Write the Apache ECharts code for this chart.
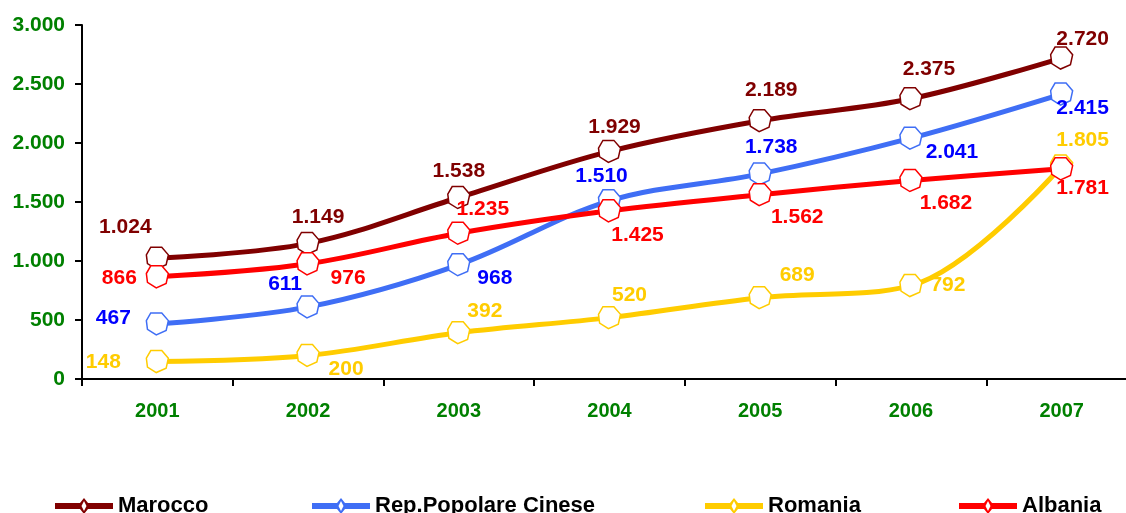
<!DOCTYPE html>
<html lang="it">
  <head>
    <meta charset="UTF-8" />
    <title>Chart</title>
    <script src="https://cdn.jsdelivr.net/npm/echarts@6/dist/echarts.min.js"></script>
    <style>
      html, body { margin: 0; padding: 0; background: #fff; overflow: hidden; }
    </style>
  </head>
  <body>
    <!-- l'asse x prosegue oltre il bordo destro, come nell'originale -->
    <div id="main" style="width: 1137px; height: 513px"></div>
    <script type="text/javascript">
      // dati
      var anni = ["2001", "2002", "2003", "2004", "2005", "2006", "2007"];
      var marocco = [1024, 1149, 1538, 1929, 2189, 2375, 2720];
      var cina = [467, 611, 968, 1510, 1738, 2041, 2415];
      var romania = [148, 200, 392, 520, 689, 792, 1805];
      var albania = [866, 976, 1235, 1425, 1562, 1682, 1781];
      var nomi = ["Marocco", "Rep.Popolare Cinese", "Romania", "Albania"];
      var colori = ["#800000", "#3F6EF5", "#FFCC00", "#FF0000"];
      var coloriEtichette = ["#800000", "#0000FF", "#FFCC00", "#FF0000"];

      // spostamento delle etichette rispetto al punto
      var offMarocco = [[-32, -31], [10, -26], [0, -26], [5, -24], [11, -30], [18, -30], [21, -19]];
      var offCina = [[-44, -6], [-23, -23], [36, 13], [-8, -25], [11, -27], [41, 14], [21, 14]];
      var offRomania = [[-54, 1], [38, 14], [26, -22], [20, -22], [37, -22], [37, 0], [21, -26]];
      var offAlbania = [[-38, 1], [40, 14], [24, -24], [28, 24], [37, 23], [35, 23], [21, 19]];

      function fmt(v) {
        return String(v).replace(/\B(?=(\d{3})+(?!\d))/g, ".");
      }

      var marker = "path://M4,0 L14,0 L20,7 L18,16 L9,20 L1,15 L0,7 Z";
      var fontBold = "Liberation Sans, Arial, sans-serif";

      function serie(i, valori, offsets) {
        return {
          name: nomi[i],
          type: "line",
          smooth: 0.35,
          data: valori.map(function (v, k) {
            return {
              value: v,
              label: { offset: offsets[k] },
            };
          }),
          symbol: marker,
          symbolSize: 22,
          lineStyle: { color: colori[i], width: 5 },
          itemStyle: { color: "#fff", borderColor: colori[i], borderWidth: 1.5 },
          label: {
            show: true,
            position: "inside",
            color: coloriEtichette[i],
            fontSize: 21,
            fontWeight: "bold",
            fontFamily: fontBold,
            formatter: function (p) {
              return fmt(p.value);
            },
          },
          emphasis: { disabled: true },
        };
      }

      function legenda(i, left) {
        return {
          left: left,
          bottom: -4,
          padding: 0,
          itemWidth: 58,
          itemHeight: 16,
          itemGap: 0,
          textStyle: {
            color: "#000",
            fontSize: 22,
            fontWeight: "bold",
            fontFamily: fontBold,
          },
          data: [
            {
              name: nomi[i],
              icon: "path://M0,5 L25,5 L29,0 L33,5 L58,5 L58,11 L33,11 L29,16 L25,11 L0,11 Z M29,3 L26.5,8 L29,13 L31.5,8 Z",
              itemStyle: { color: colori[i], borderWidth: 0 },
            },
          ],
        };
      }

      var myChart = echarts.init(document.getElementById("main"));
      var option = {
        animation: false,
        grid: { left: 82, top: 25, bottom: 134, right: 0 },
        legend: [legenda(0, 55), legenda(1, 312), legenda(2, 705), legenda(3, 959)],
        xAxis: {
          type: "category",
          data: anni,
          boundaryGap: true,
          axisLine: { lineStyle: { color: "#000", width: 2 } },
          axisTick: { show: true, length: 7, lineStyle: { color: "#000", width: 2 } },
          axisLabel: {
            color: "#008000",
            fontSize: 20,
            fontWeight: "bold",
            fontFamily: fontBold,
            margin: 22,
          },
          splitLine: { show: false },
        },
        yAxis: {
          type: "value",
          min: 0,
          max: 3000,
          interval: 500,
          axisLine: { show: true, lineStyle: { color: "#000", width: 2 } },
          axisTick: { show: true, length: 7, lineStyle: { color: "#000", width: 2 } },
          axisLabel: {
            color: "#008000",
            fontSize: 21,
            fontWeight: "bold",
            fontFamily: fontBold,
            margin: 17,
            formatter: fmt,
          },
          splitLine: { show: false },
        },
        series: [
          serie(0, marocco, offMarocco),
          serie(1, cina, offCina),
          serie(2, romania, offRomania),
          serie(3, albania, offAlbania),
        ],
      };
      myChart.setOption(option);
    </script>
  </body>
</html>
